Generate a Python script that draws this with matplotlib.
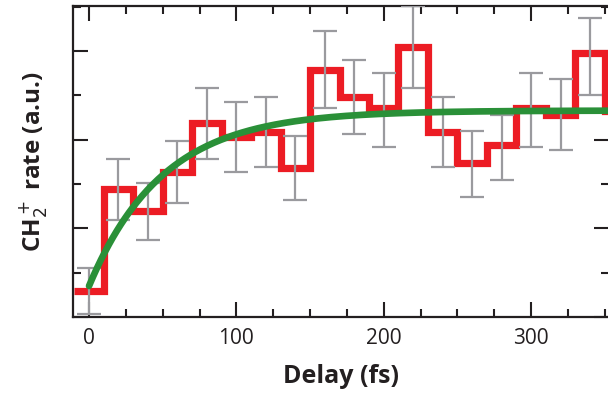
import numpy as np
import matplotlib
matplotlib.use('Agg')
import matplotlib.pyplot as plt
from matplotlib.ticker import MultipleLocator

# delay bins (fs) and measured rate (a.u.)
delay = np.array([0, 20, 40, 60, 80, 100, 120, 140, 160, 180, 200, 220,
                  240, 260, 280, 300, 320, 340, 360])
rate = np.array([0.59, 2.90, 2.40, 3.28, 4.37, 4.07, 4.18, 3.37, 5.58, 4.97,
                 4.71, 6.10, 4.18, 3.47, 3.88, 4.71, 4.56, 5.95, 4.65])
# error bar ends
err_hi = np.array([1.10, 3.56, 3.03, 3.98, 5.18, 4.85, 4.96, 4.09, 6.46, 5.80,
                   5.50, 7.02, 4.96, 4.20, 4.56, 5.50, 5.38, 6.74, 5.40])
err_lo = np.array([0.07, 2.20, 1.74, 2.57, 3.57, 3.28, 3.38, 2.64, 4.71, 4.12,
                   3.84, 5.18, 3.38, 2.70, 3.09, 3.84, 3.77, 5.00, 3.90])

# exponential rise fit: y0 + (yinf - y0) * (1 - exp(-t / tau))
fit_y0, fit_yinf, fit_tau = 0.70, 4.66, 50.0

red = '#ec1c24'
green = '#2a9038'
grey = '#9a9a9e'
dark = '#231f20'

plt.rcParams['font.family'] = ['Open Sans', 'DejaVu Sans']

fig = plt.figure(figsize=(6.08, 3.99), dpi=100)
ax = fig.add_axes([0.120, 0.2055, 0.882, 0.7795])

# step trace
edges = np.append(delay - 10, delay[-1] + 10)
ax.stairs(rate, edges, color=red, lw=5.2, baseline=None, zorder=2)

# error bars
ax.errorbar(delay[:-1], rate[:-1],
            yerr=[rate[:-1] - err_lo[:-1], err_hi[:-1] - rate[:-1]],
            fmt='none', ecolor=grey, elinewidth=1.6, capsize=8.5, capthick=1.6,
            zorder=3)

t = np.linspace(0, 360, 400)
ax.plot(t, fit_y0 + (fit_yinf - fit_y0) * (1 - np.exp(-t / fit_tau)),
        color=green, lw=4.8, solid_capstyle='round', zorder=4)

ax.set_xlim(-10.9, 353)
ax.set_ylim(0, 7.02)

ax.xaxis.set_major_locator(MultipleLocator(100))
ax.xaxis.set_minor_locator(MultipleLocator(25))
ax.yaxis.set_major_locator(MultipleLocator(2))
ax.yaxis.set_minor_locator(MultipleLocator(1))
ax.tick_params(which='both', direction='in', top=True, right=True,
               color=dark, width=1.5, labelleft=False)
ax.tick_params(which='major', length=11)
ax.tick_params(which='minor', length=6)
ax.tick_params(axis='x', labelsize=15, pad=8, labelcolor=dark)
for s in ax.spines.values():
    s.set_linewidth(1.6)
    s.set_color(dark)

ax.set_xlabel('Delay (fs)', fontsize=18, fontweight='bold', color=dark, labelpad=11)
ax.set_ylabel('CH$_2^+$ rate (a.u.)', fontsize=17.5, fontweight='bold', color=dark)
ax.yaxis.set_label_coords(-0.045, 0.5)

fig.savefig('out.png', dpi=100)
